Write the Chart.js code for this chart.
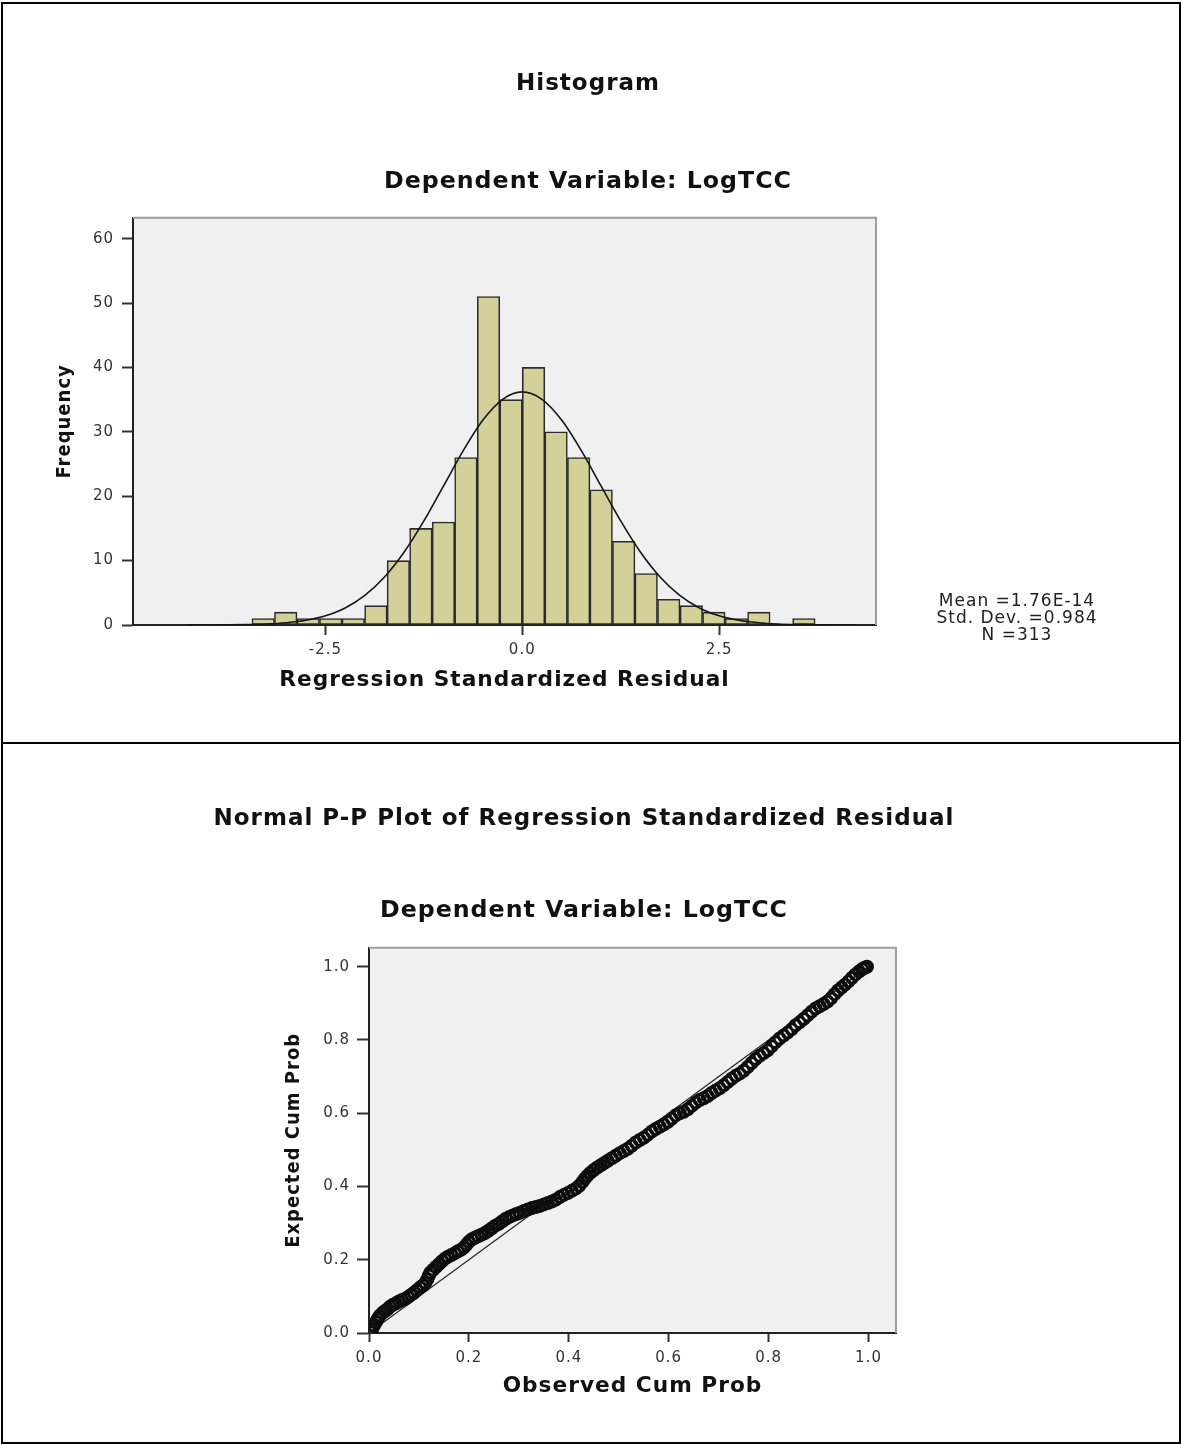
<!DOCTYPE html>
<html><head><meta charset="utf-8">
<script src="https://cdn.jsdelivr.net/npm/chart.js@4.4.1/dist/chart.umd.min.js"></script>
<style>
html,body{margin:0;padding:0;background:#fff;}
body{width:1182px;height:1445px;position:relative;overflow:hidden;}
.frame{position:absolute;left:1px;top:2px;width:1180px;height:1442px;border:2px solid #000;box-sizing:border-box;z-index:5;pointer-events:none;}
.divider{position:absolute;left:1px;top:742px;width:1180px;height:2px;background:#000;z-index:5;}
#c1wrap{position:absolute;left:0;top:0;}
#c2wrap{position:absolute;left:0;top:744px;}
canvas{display:block;}
</style></head><body>
<div id="c1wrap"><canvas id="hist" width="1176" height="742"></canvas></div>
<div id="c2wrap"><canvas id="pp" width="1168" height="697"></canvas></div>
<div class="frame"></div><div class="divider"></div>
<script>
// ---------- Histogram data ----------
const histTitle = 'Histogram';
const histSubtitle = 'Dependent Variable: LogTCC';
const histXTitle = 'Regression Standardized Residual';
const histYTitle = 'Frequency';
const histBinCenters = [-3.291,-3.005,-2.719,-2.433,-2.147,-1.860,-1.574,-1.288,-1.002,-0.716,-0.429,-0.143,0.143,0.429,0.716,1.002,1.288,1.574,1.860,2.147,2.433,2.719,3.005,3.291,3.577];
const histCounts = [1,2,1,1,1,3,10,15,16,26,51,35,40,30,26,21,13,8,4,3,2,1,2,0,1];
const curveX = [-4.25,-4.0,-3.75,-3.5,-3.25,-3.0,-2.75,-2.5,-2.25,-2.0,-1.75,-1.5,-1.25,-1.0,-0.75,-0.5,-0.25,0,0.25,0.5,0.75,1.0,1.25,1.5,1.75,2.0,2.25,2.5,2.75,3.0,3.25,3.5,3.75,4.0,4.25];
const curveY = [0.003,0.009,0.025,0.065,0.155,0.35,0.73,1.44,2.65,4.59,7.45,11.33,16.16,21.6,27.07,31.82,35.05,36.2,35.05,31.82,27.07,21.6,16.16,11.33,7.45,4.59,2.65,1.44,0.73,0.35,0.155,0.065,0.025,0.009,0.003];
const histXTicks = [-2.5, 0, 2.5];
const histYTicks = [0,10,20,30,40,50,60];
const histStats = ['Mean =1.76E-14','Std. Dev. =0.984','N =313'];

// ---------- P-P plot data ----------
const ppTitle = 'Normal P-P Plot of Regression Standardized Residual';
const ppSubtitle = 'Dependent Variable: LogTCC';
const ppXTitle = 'Observed Cum Prob';
const ppYTitle = 'Expected Cum Prob';
const ppObserved = [0.003,0.006,0.010,0.014,0.018,0.022,0.027,0.032,0.037,0.042,0.048,0.054,0.060,0.066,0.072,0.078,0.084,0.090,0.096,0.102,0.108,0.113,0.117,0.120,0.123,0.128,0.134,0.140,0.146,0.152,0.158,0.165,0.172,0.178,0.184,0.190,0.195,0.200,0.206,0.212,0.218,0.225,0.232,0.239,0.246,0.253,0.260,0.267,0.274,0.281,0.288,0.295,0.302,0.310,0.318,0.326,0.334,0.342,0.350,0.358,0.366,0.374,0.382,0.390,0.398,0.406,0.414,0.421,0.427,0.432,0.437,0.443,0.450,0.457,0.464,0.471,0.478,0.486,0.494,0.502,0.510,0.518,0.526,0.534,0.542,0.550,0.558,0.566,0.574,0.582,0.590,0.598,0.606,0.614,0.622,0.630,0.638,0.646,0.654,0.662,0.670,0.678,0.686,0.694,0.702,0.710,0.718,0.726,0.734,0.742,0.750,0.758,0.766,0.774,0.782,0.790,0.798,0.806,0.814,0.822,0.830,0.838,0.846,0.854,0.862,0.870,0.878,0.886,0.894,0.902,0.910,0.918,0.925,0.932,0.939,0.946,0.953,0.960,0.967,0.974,0.981,0.987,0.992,0.997];
const ppExpected = [0.002,0.010,0.020,0.030,0.040,0.048,0.055,0.060,0.065,0.072,0.077,0.081,0.086,0.090,0.093,0.098,0.104,0.110,0.117,0.124,0.130,0.137,0.147,0.157,0.165,0.172,0.180,0.188,0.196,0.203,0.208,0.213,0.218,0.223,0.227,0.233,0.241,0.249,0.256,0.260,0.264,0.268,0.273,0.279,0.286,0.293,0.298,0.305,0.312,0.317,0.321,0.325,0.328,0.333,0.337,0.341,0.344,0.347,0.351,0.355,0.359,0.364,0.371,0.377,0.382,0.388,0.394,0.402,0.412,0.421,0.429,0.437,0.445,0.452,0.458,0.464,0.470,0.477,0.484,0.491,0.497,0.503,0.511,0.520,0.527,0.533,0.541,0.550,0.557,0.563,0.569,0.576,0.585,0.594,0.600,0.604,0.611,0.620,0.629,0.636,0.641,0.647,0.655,0.662,0.668,0.676,0.685,0.694,0.702,0.708,0.716,0.726,0.737,0.748,0.757,0.764,0.772,0.783,0.794,0.804,0.812,0.820,0.829,0.840,0.848,0.857,0.867,0.877,0.886,0.892,0.898,0.905,0.914,0.925,0.935,0.943,0.951,0.960,0.970,0.979,0.987,0.993,0.997,1.000];
const diagonalX = [0, 1];
const diagonalY = [0, 1];
const ppTicks = [0, 0.2, 0.4, 0.6, 0.8, 1.0];

// ---------- shared styling ----------
const TITLE_FONT = {family: '"DejaVu Sans", sans-serif', size: 23, weight: 'bold', lineHeight: 1.2};
const SUBTITLE_FONT = {family: '"DejaVu Sans", sans-serif', size: 23.7, weight: 'bold', lineHeight: 1.2};
const AXIS_TITLE_FONT = {family: '"DejaVu Sans", sans-serif', size: 21.7, weight: 'bold', lineHeight: 1.2};
const ROT_TITLE_FONT = {family: '"Liberation Sans Narrow", "DejaVu Sans Condensed", sans-serif', size: 20, weight: 'bold', lineHeight: 1.2};
const TICK_FONT = {family: '"DejaVu Sans", sans-serif', size: 15, lineHeight: 1.2};

const frameStyle = {
  id: 'frameStyle',
  beforeDraw(chart) {
    const ctx = chart.ctx, a = chart.chartArea;
    try { ctx.letterSpacing = '1px'; } catch (e) {}
    ctx.save();
    ctx.fillStyle = '#f0f0f0';
    ctx.fillRect(a.left, a.top, a.right - a.left, a.bottom - a.top);
    ctx.restore();
  },
  beforeDatasetsDraw(chart) {
    const ctx = chart.ctx, a = chart.chartArea;
    ctx.save();
    ctx.strokeStyle = '#9c9c9c';
    ctx.lineWidth = 2;
    ctx.beginPath();
    ctx.moveTo(a.left, a.top);
    ctx.lineTo(a.right, a.top);
    ctx.lineTo(a.right, a.bottom);
    ctx.stroke();
    ctx.restore();
  }
};

const statsBox = {
  id: 'statsBox',
  afterDraw(chart) {
    const ctx = chart.ctx, a = chart.chartArea;
    ctx.save();
    ctx.font = '17px "DejaVu Sans", sans-serif';
    ctx.fillStyle = '#222';
    ctx.textAlign = 'center';
    ctx.textBaseline = 'middle';
    histStats.forEach((t, i) => ctx.fillText(t, a.right + 141, a.bottom - 23 + i * 16.8));
    ctx.restore();
  }
};

function axisBase(ticksArr, tickLen, pad) {
  return {
    afterBuildTicks: s => { s.ticks = ticksArr.map(v => ({value: v})); },
    grid: {display: true, drawOnChartArea: false, drawTicks: true, tickLength: tickLen, tickColor: '#333', tickWidth: 2, offset: false},
    border: {display: true, color: '#222', width: 2},
    ticks: {color: '#333', font: TICK_FONT, padding: pad, maxRotation: 0, autoSkip: false,
            callback: v => Number(v).toFixed(1)}
  };
}

// ---------- Histogram chart ----------
const histX = axisBase(histXTicks, 10, 6);
Object.assign(histX, {
  type: 'linear', min: -4.945, max: 4.493, offset: false, position: 'bottom',
  afterFit: s => { s.height = 117; },
  title: {display: true, text: histXTitle, color: '#111', font: AXIS_TITLE_FONT, padding: {top: 0, bottom: 48.5}}
});
const histY = axisBase(histYTicks, 11, 8);
histY.ticks.callback = v => String(v);
Object.assign(histY, {
  type: 'linear', min: 0, max: 63.26, position: 'left',
  afterFit: s => { s.width = 133; },
  title: {display: true, text: histYTitle, color: '#111', font: ROT_TITLE_FONT, padding: {top: 53, bottom: 0}}
});

new Chart(document.getElementById('hist'), {
  type: 'bar',
  data: {
    datasets: [
      {
        type: 'line',
        data: curveX.map((x, i) => ({x: x, y: curveY[i]})),
        borderColor: '#151515', borderWidth: 1.6, pointRadius: 0, fill: false,
        cubicInterpolationMode: 'monotone', order: 0, xAxisID: 'x', yAxisID: 'y'
      },
      {
        type: 'bar',
        data: histBinCenters.map((x, i) => ({x: x, y: histCounts[i]})),
        backgroundColor: '#d4d09a', borderColor: '#2b2b2b', borderWidth: 1.6,
        borderSkipped: false, barPercentage: 1, categoryPercentage: 1, order: 1,
        xAxisID: 'x', yAxisID: 'y'
      }
    ]
  },
  options: {
    responsive: false, animation: false, devicePixelRatio: 1,
    layout: {padding: 0},
    plugins: {
      legend: {display: false}, tooltip: {enabled: false},
      title: {display: true, text: histTitle, color: '#111', font: TITLE_FONT, padding: {top: 70.2, bottom: 70.3}},
      subtitle: {display: true, text: histSubtitle, color: '#111', font: SUBTITLE_FONT, padding: {top: 0, bottom: 21.1}}
    },
    scales: {
      x: histX,
      y: histY,
      yR: {type: 'linear', position: 'right', display: true, afterFit: s => { s.width = 300; },
           grid: {display: false}, ticks: {display: false}, border: {display: false}}
    }
  },
  plugins: [frameStyle, statsBox]
});

// ---------- P-P chart ----------
const ppX = axisBase(ppTicks, 9, 7);
Object.assign(ppX, {
  type: 'linear', min: 0, max: 1.055, position: 'bottom',
  afterFit: s => { s.height = 108; },
  title: {display: true, text: ppXTitle, color: '#111', font: AXIS_TITLE_FONT, padding: {top: 0, bottom: 41.5}}
});
const ppY = axisBase(ppTicks, 12, 7);
Object.assign(ppY, {
  type: 'linear', min: 0, max: 1.052, position: 'left',
  afterFit: s => { s.width = 369; },
  title: {display: true, text: ppYTitle, color: '#111', font: ROT_TITLE_FONT, padding: {top: 282, bottom: 0}}
});

new Chart(document.getElementById('pp'), {
  type: 'scatter',
  data: {
    datasets: [
      {
        type: 'line',
        data: diagonalX.map((x, i) => ({x: x, y: diagonalY[i]})),
        borderColor: '#222', borderWidth: 1.2, pointRadius: 0, fill: false, order: 1
      },
      {
        type: 'scatter',
        data: ppObserved.map((x, i) => ({x: x, y: ppExpected[i]})),
        pointStyle: 'circle', pointRadius: 5.5, borderWidth: 3,
        borderColor: '#0d0d0d', backgroundColor: 'rgba(0,0,0,0)', order: 0
      }
    ]
  },
  options: {
    responsive: false, animation: false, devicePixelRatio: 1,
    layout: {padding: 0},
    plugins: {
      legend: {display: false}, tooltip: {enabled: false},
      title: {display: true, text: ppTitle, color: '#111', font: TITLE_FONT, padding: {top: 61.2, bottom: 64.3}},
      subtitle: {display: true, text: ppSubtitle, color: '#111', font: SUBTITLE_FONT, padding: {top: 0, bottom: 22.1}}
    },
    scales: {
      x: ppX,
      y: ppY,
      yR: {type: 'linear', position: 'right', display: true, afterFit: s => { s.width = 272; },
           grid: {display: false}, ticks: {display: false}, border: {display: false}}
    }
  },
  plugins: [frameStyle]
});
</script>
</body></html>
